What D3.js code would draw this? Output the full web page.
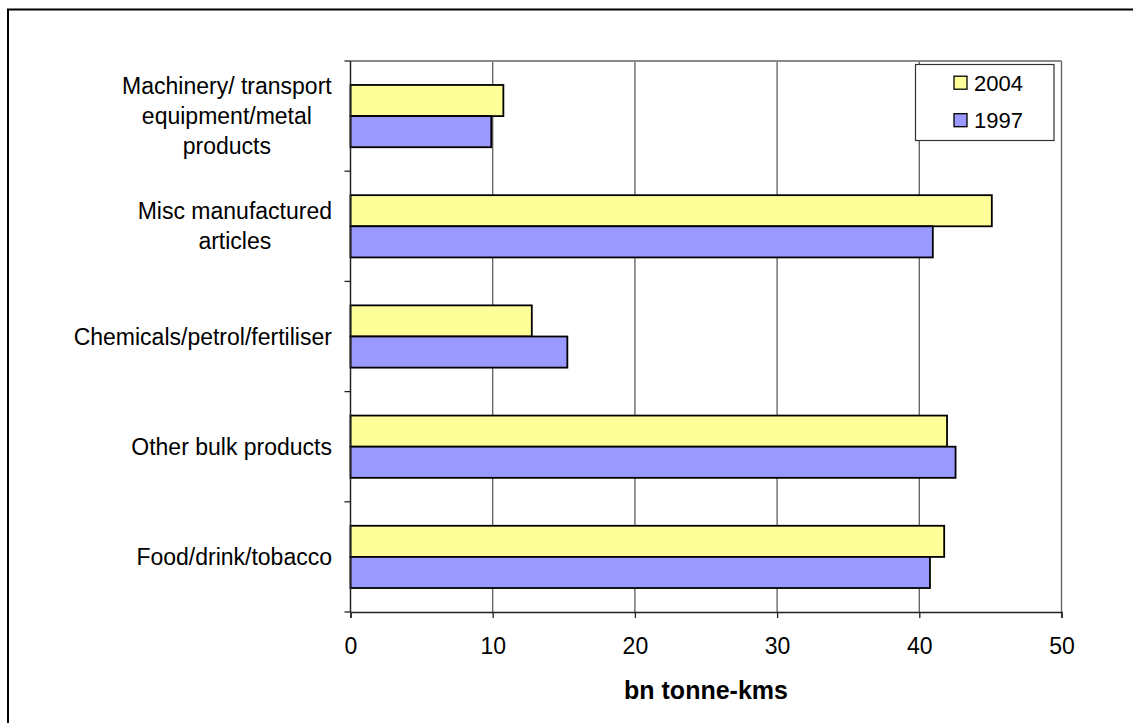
<!DOCTYPE html>
<html>
<head>
<meta charset="utf-8">
<script src="https://cdn.jsdelivr.net/npm/d3@7"></script>
<style>
  body { margin: 0; background: #fff; }
  text { font-family: "Liberation Sans", Arial, sans-serif; }
</style>
</head>
<body>
<div id="chart"></div>
<script>
// categories top to bottom, each label split into its lines
const categories = ["Machinery/ transport equipment/metal products", "Misc manufactured articles",
  "Chemicals/petrol/fertiliser", "Other bulk products", "Food/drink/tobacco"];
const labelLines = [["Machinery/ transport", "equipment/metal", "products"],
  ["Misc manufactured", "articles"], ["Chemicals/petrol/fertiliser"],
  ["Other bulk products"], ["Food/drink/tobacco"]];
const series = ["2004", "1997"];
const values2004 = [10.75, 45.1, 12.75, 41.95, 41.75];
const values1997 = [9.9, 40.95, 15.25, 42.55, 40.75];
const xTicks = [0, 10, 20, 30, 40, 50];
const colors = {"2004": "#FFFF99", "1997": "#9999FF"};

const width = 1133, height = 723;
const plot = {left: 350.5, right: 1061.5, top: 61, bottom: 612};

const svg = d3.select("#chart")
  .append("svg")
    .attr("width", width)
    .attr("height", height);

// outer frame, runs off right and bottom edges
svg.append("rect")
  .attr("x", 8).attr("y", 9.5)
  .attr("width", 1140).attr("height", 730)
  .attr("fill", "none")
  .attr("stroke", "#000")
  .attr("stroke-width", 2);

const xaxis = d3.scaleLinear()
  .domain([0, 50])
  .range([plot.left, plot.right]);

const yaxis = d3.scaleBand()
  .domain(categories)
  .range([plot.top, plot.bottom]);

const inner = d3.scaleBand()
  .domain(series)
  .range([0, yaxis.bandwidth()])
  .paddingOuter(0.77);

// gridlines
svg.selectAll("grid")
  .data(xTicks.slice(1))
  .enter()
  .append("line")
    .attr("x1", d => xaxis(d)).attr("x2", d => xaxis(d))
    .attr("y1", plot.top).attr("y2", plot.bottom)
    .attr("stroke", "#5e5e5e")
    .attr("stroke-width", 1.3);

// top border of plot area
svg.append("line")
  .attr("x1", plot.left).attr("x2", plot.right)
  .attr("y1", plot.top).attr("y2", plot.top)
  .attr("stroke", "#8a8a8a")
  .attr("stroke-width", 2);

// bars
const rows = [];
categories.forEach((c, i) => {
  rows.push({cat: c, s: "2004", v: values2004[i]});
  rows.push({cat: c, s: "1997", v: values1997[i]});
});

svg.selectAll("bar")
  .data(rows)
  .enter()
  .append("rect")
    .attr("x", xaxis(0))
    .attr("y", d => yaxis(d.cat) + inner(d.s))
    .attr("width", d => xaxis(d.v) - xaxis(0))
    .attr("height", inner.bandwidth())
    .attr("fill", d => colors[d.s])
    .attr("stroke", "#000")
    .attr("stroke-width", 1.8);

// x axis
const gx = svg.append("g")
  .attr("transform", "translate(0," + plot.bottom + ")")
  .call(d3.axisBottom(xaxis).tickValues(xTicks).tickSize(6).tickPadding(20));
gx.select(".domain").attr("stroke", "#222").attr("stroke-width", 1.5);
gx.selectAll(".tick line").attr("stroke", "#222").attr("stroke-width", 1.3);
gx.selectAll("text")
  .style("font-family", "'Liberation Sans', Arial, sans-serif")
  .style("font-size", "23px")
  .attr("fill", "#000");

// y axis: ticks at category boundaries
svg.append("line")
  .attr("x1", plot.left).attr("x2", plot.left)
  .attr("y1", plot.top).attr("y2", plot.bottom)
  .attr("stroke", "#222").attr("stroke-width", 1.5);
const bounds = categories.map(c => yaxis(c)).concat([plot.bottom]);
svg.selectAll("ytick")
  .data(bounds)
  .enter()
  .append("line")
    .attr("x1", plot.left - 6).attr("x2", plot.left)
    .attr("y1", d => d).attr("y2", d => d)
    .attr("stroke", "#222").attr("stroke-width", 1.3);

// category labels: centred block, right edge at 332
categories.forEach((c, i) => {
  const lines = labelLines[i];
  const cy = yaxis(c) + yaxis.bandwidth() / 2;
  const t = svg.append("text")
    .attr("text-anchor", "middle")
    .style("font-size", "23px")
    .attr("fill", "#000");
  lines.forEach((l, j) => {
    t.append("tspan")
      .attr("x", 0)
      .attr("y", cy + 8 + (j - (lines.length - 1) / 2) * 30)
      .text(l);
  });
  const w = t.node().getBBox().width;
  t.attr("transform", "translate(" + (332 - w / 2) + ",0)");
});

// axis title
svg.append("text")
  .attr("x", (plot.left + plot.right) / 2)
  .attr("y", 699)
  .attr("text-anchor", "middle")
  .style("font-size", "25px")
  .style("font-weight", "bold")
  .text("bn tonne-kms");

// legend
const lg = svg.append("g");
lg.append("rect")
  .attr("x", 915.5).attr("y", 64.5)
  .attr("width", 138.5).attr("height", 76)
  .attr("fill", "#fff")
  .attr("stroke", "#333")
  .attr("stroke-width", 1.2);
series.forEach((s, i) => {
  const cy = 82.7 + i * 37.5;
  lg.append("rect")
    .attr("x", 954).attr("y", cy - 6.5)
    .attr("width", 13).attr("height", 13)
    .attr("fill", colors[s])
    .attr("stroke", "#000")
    .attr("stroke-width", 1.3);
  lg.append("text")
    .attr("x", 974).attr("y", cy + 8)
    .style("font-size", "22px")
    .text(s);
});
</script>
</body>
</html>
